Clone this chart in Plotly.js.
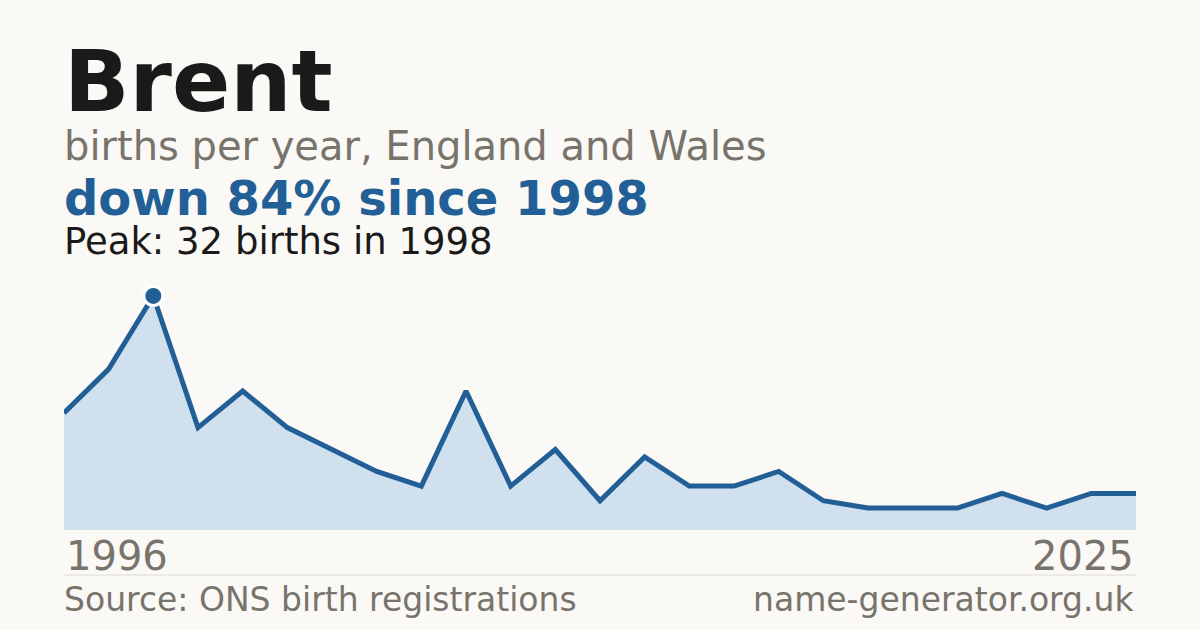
<!DOCTYPE html>
<html>
<head>
<meta charset="utf-8">
<script src="https://cdn.plot.ly/plotly-3.0.1.min.js"></script>
<style>
  html, body { margin: 0; padding: 0; background: #faf9f5; }
  #chart { width: 1200px; height: 630px; }
</style>
</head>
<body>
<div id="chart"></div>
<script>
// births per year (evenly spaced points, only the ends are labelled)
var years = ['1996', '1997', '1998', '1999', '2000', '2001', '2002', '2003', '2004',
             '2005', '2006', '2007', '2008', '2009', '2010', '2011', '2012', '2013',
             '2015', '2017', '2019', '2021', '2022', '2024', '2025'];
var births = [16, 22, 32, 14, 19, 14, 11, 8, 6,
              19, 6, 11, 4, 10, 6, 6, 8, 4,
              3, 3, 3, 5, 3, 5, 5];

var placeName = 'Brent';
var subtitle = 'births per year, England and Wales';
var sourceText = 'Source: ONS birth registrations';
var siteText = 'name-generator.org.uk';

var blue = '#215f96';
var grey = '#78746c';
var font = 'DejaVu Sans, Verdana, sans-serif';

// peak and change since peak
var peakIdx = 0;
births.forEach(function (v, i) { if (v > births[peakIdx]) peakIdx = i; });
var last = births[births.length - 1];
var pct = Math.round((births[peakIdx] - last) / births[peakIdx] * 100);

// plot area: 64..1136 px across, 274..530 px down
var T = 274, B = 530;
function py(p) { return (B - p) / (B - T); }

var xs = births.map(function (v, i) { return i; });

var data = [
    {
        type: 'scatter',
        mode: 'lines',
        x: xs,
        y: births,
        fill: 'tozeroy',
        fillcolor: '#d0e0ef',
        line: { color: blue, width: 5 },
        hoverinfo: 'skip'
    },
    {
        type: 'scatter',
        mode: 'markers',
        x: [peakIdx],
        y: [births[peakIdx]],
        marker: { size: 19, color: blue, line: { color: '#ffffff', width: 3 } },
        cliponaxis: false,
        hoverinfo: 'skip'
    }
];

function note(text, x, y, size, color, bold, xanchor, xref) {
    return {
        text: bold ? '<b>' + text + '</b>' : text,
        x: x, y: y,
        xref: xref || 'paper', yref: 'paper',
        xanchor: xanchor || 'left', yanchor: 'middle',
        showarrow: false,
        font: { family: font, size: size, color: color }
    };
}

var layout = {
    width: 1200,
    height: 630,
    paper_bgcolor: '#faf9f5',
    plot_bgcolor: '#faf9f5',
    showlegend: false,
    margin: { l: 64, r: 64, t: T, b: 630 - B, pad: 0 },
    xaxis: {
        range: [0, births.length - 1],
        showgrid: false, zeroline: false, showticklabels: false, showline: false,
        fixedrange: true
    },
    yaxis: {
        range: [0, 35],
        showgrid: false, zeroline: false, showticklabels: false, showline: false,
        fixedrange: true
    },
    annotations: [
        note(placeName, -0.002, py(81), 86, '#1a1a1a', true),
        note(subtitle, -0.002, py(146), 40, grey, false),
        note('down ' + pct + '% since ' + years[peakIdx], -0.002, py(198), 48, blue, true),
        note('Peak: ' + births[peakIdx] + ' births in ' + years[peakIdx], -0.002, py(241), 37, '#1a1a1a', false),
        note(years[0], 0, py(556), 40, grey, false, 'left', 'x'),
        note(years[years.length - 1], births.length - 1, py(556), 40, grey, false, 'right', 'x'),
        note(sourceText, -0.002, py(599), 33, grey, false),
        note(siteText, 1, py(599), 33, grey, false, 'right')
    ],
    shapes: [{
        type: 'line', xref: 'paper', yref: 'paper',
        x0: 0, x1: 1, y0: py(575), y1: py(575),
        line: { color: '#dddbd5', width: 1 }
    }]
};

Plotly.newPlot('chart', data, layout, { displayModeBar: false, staticPlot: true });
</script>
</body>
</html>
